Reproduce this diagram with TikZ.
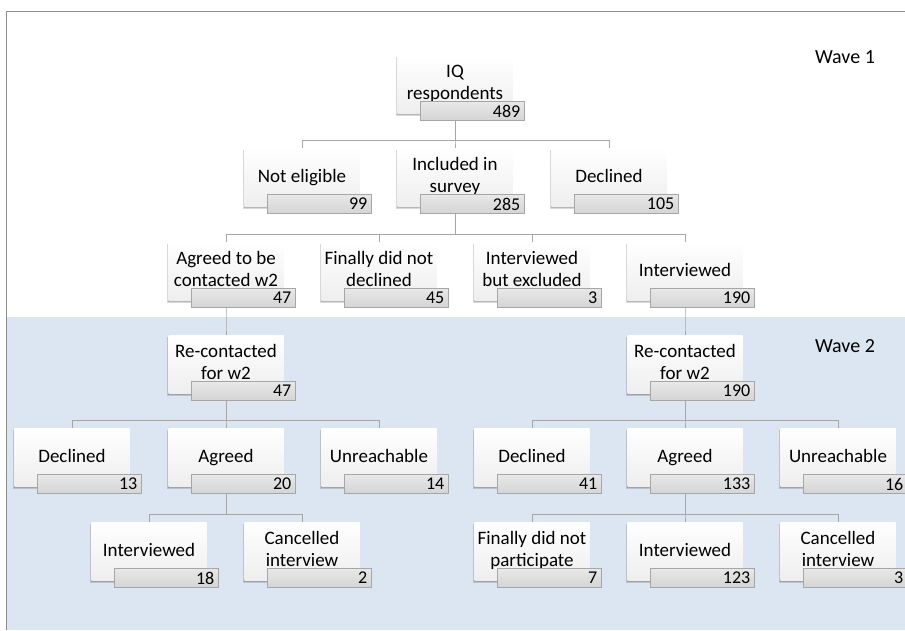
\documentclass[tikz,border=0pt]{standalone}
\usepackage{fontspec}
\setmainfont{Carlito}
\usetikzlibrary{calc}
\definecolor{wavebg}{HTML}{DCE6F2}
\definecolor{framec}{HTML}{8C8C8C}
\definecolor{connc}{HTML}{A6A6A6}
\definecolor{barline}{HTML}{A6A6A6}
\definecolor{bartop}{HTML}{E8E8E8}
\definecolor{barbot}{HTML}{D4D4D4}
\definecolor{boxbot}{HTML}{EEEEEE}
\pgfdeclarelayer{bg}
\pgfdeclarelayer{lines}
\pgfsetlayers{bg,lines,main}
\tikzset{
  obox/.style={minimum width=115pt, minimum height=58pt, inner sep=0pt, align=center,
    top color=white, bottom color=boxbot, font=\fontsize{19}{22}\selectfont,
    execute at begin node={\rule{0pt}{15.4pt}},
    execute at end node={\rule[-3.6pt]{0pt}{0pt}}},
  shadowbox/.style={fill=black, fill opacity=0.08},
  obar/.style={anchor=north east, minimum width=104pt, minimum height=19pt, text width=96pt,
    inner xsep=4pt, inner ysep=0pt, align=right, draw=barline, line width=0.8pt,
    top color=bartop, bottom color=barbot, font=\fontsize{18}{19}\selectfont},
  conn/.style={draw=connc, line width=0.9pt},
  wavelbl/.style={font=\fontsize{20}{22}\selectfont, inner sep=0pt}
}
\newcommand\orgitem[5]{%
  \fill[shadowbox] (#2-59.5,#3-27) rectangle (#2+56.5,#3+32);
  \fill[shadowbox] (#2-59,#3-27.5) rectangle (#2+56,#3+31.5);
  \fill[shadowbox] (#2-58.5,#3-28) rectangle (#2+55.5,#3+31);
  \fill[shadowbox] (#2-58,#3-28.5) rectangle (#2+55,#3+30.5);
  \node[obox] (#1) at (#2,#3) {#4};
  \node[obar] (#1n) at ([xshift=12pt,yshift=12pt]#1.south east) {#5};}
\newcommand\orglink[2]{\draw[conn] (#1.center) |- ($(#2.north)+(0,-7)$) -| (#2.north);}
\begin{document}
\begin{tikzpicture}[x=1pt,y=-1pt]
\useasboundingbox (0,0) rectangle (905,630);
\begin{pgfonlayer}{bg}
  \fill[white] (0,0) rectangle (905,630);
  \fill[wavebg] (6,317) rectangle (905,630);
  \draw[framec, line width=0.9pt] (6,630) -- (6,11) -- (905,11);
\end{pgfonlayer}
\node[wavelbl] (w1) at (845,57) {Wave 1};
\node[wavelbl] (w2) at (845,346) {Wave 2};
% rows
\orgitem{iq}{455}{84}{IQ\\respondents}{489}
\orgitem{ne}{302}{177}{Not eligible}{99}
\orgitem{inc}{455}{177}{Included in\\survey}{285}
\orgitem{dec}{609}{177}{Declined}{105}
\orgitem{ag}{226}{271}{Agreed to be\\contacted w2}{47}
\orgitem{fdn}{379}{271}{Finally did not\\declined}{45}
\orgitem{ibe}{532}{271}{Interviewed\\but excluded}{3}
\orgitem{int}{685}{271}{Interviewed}{190}
\orgitem{rcl}{226}{364}{Re-contacted\\for w2}{47}
\orgitem{rcr}{685}{364}{Re-contacted\\for w2}{190}
\orgitem{decl}{72}{457}{Declined}{13}
\orgitem{agl}{226}{457}{Agreed}{20}
\orgitem{unl}{379}{457}{Unreachable}{14}
\orgitem{decr}{532}{457}{Declined}{41}
\orgitem{agr}{685}{457}{Agreed}{133}
\orgitem{unr}{838}{457}{Unreachable}{16}
\orgitem{intl}{149}{551}{Interviewed}{18}
\orgitem{cal}{302}{551}{Cancelled\\interview}{2}
\orgitem{fdp}{532}{551}{Finally did not\\participate}{7}
\orgitem{intr}{685}{551}{Interviewed}{123}
\orgitem{car}{838}{551}{Cancelled\\interview}{3}
\begin{pgfonlayer}{lines}
  \orglink{iq}{ne}\orglink{iq}{inc}\orglink{iq}{dec}
  \orglink{inc}{ag}\orglink{inc}{fdn}\orglink{inc}{ibe}\orglink{inc}{int}
  \orglink{ag}{rcl}\orglink{int}{rcr}
  \orglink{rcl}{decl}\orglink{rcl}{agl}\orglink{rcl}{unl}
  \orglink{rcr}{decr}\orglink{rcr}{agr}\orglink{rcr}{unr}
  \orglink{agl}{intl}\orglink{agl}{cal}
  \orglink{agr}{fdp}\orglink{agr}{intr}\orglink{agr}{car}
\end{pgfonlayer}
\end{tikzpicture}
\end{document}
